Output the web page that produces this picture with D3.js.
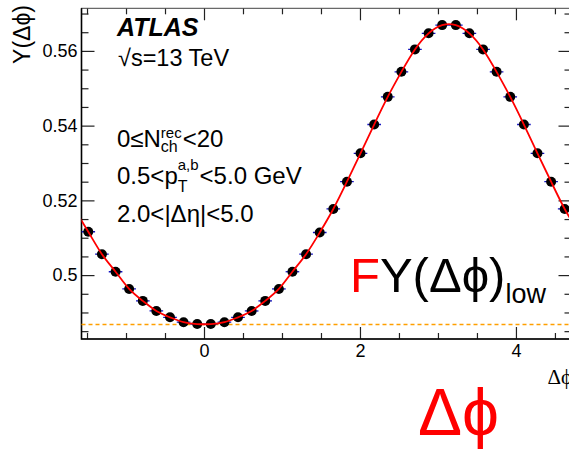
<!DOCTYPE html>
<html>
<head>
<meta charset="utf-8">
<script src="https://cdn.jsdelivr.net/npm/d3@7/dist/d3.min.js"></script>
<style>
  body { margin: 0; background: #fff; }
  svg { display: block; }
  text { font-family: "Liberation Sans", Arial, Helvetica, sans-serif; }
</style>
</head>
<body>
<div id="chart"></div>
<script>
// bin centres in delta phi (36 bins over [-pi/2, 3pi/2])
var dphi = [-1.484, -1.309, -1.134, -0.960, -0.785, -0.611, -0.436, -0.262, -0.087,
             0.087,  0.262,  0.436,  0.611,  0.785,  0.960,  1.134,  1.309,  1.484,
             1.658,  1.833,  2.007,  2.182,  2.356,  2.531,  2.705,  2.880,  3.054,
             3.229,  3.403,  3.578,  3.752,  3.927,  4.102,  4.276,  4.451,  4.625];
// Y(dphi) values
var yVals = [0.5116, 0.5056, 0.5009, 0.4963, 0.4931, 0.4904, 0.4887, 0.4874, 0.4869,
             0.4869, 0.4874, 0.4887, 0.4904, 0.4931, 0.4963, 0.5009, 0.5056, 0.5114,
             0.5177, 0.5250, 0.5326, 0.5403, 0.5477, 0.5544, 0.5604, 0.5647, 0.5669,
             0.5669, 0.5647, 0.5604, 0.5544, 0.5477, 0.5403, 0.5326, 0.5250, 0.5177];
var binHalfWidth = 0.0873;
var lowLevel = [0.4868];          // dashed orange line

var xMajorTicks = [0, 2, 4];
var xMinorTicks = [-1.5, -1, -0.5, 0.5, 1, 1.5, 2.5, 3, 3.5, 4.5];
var yMajorTicks = [0.5, 0.52, 0.54, 0.56];
var yMinorTicks = [0.485, 0.49, 0.495, 0.505, 0.51, 0.515, 0.525, 0.53, 0.535,
                   0.545, 0.55, 0.555, 0.565, 0.57];

var width = 569, height = 450;
var padL = 81.5, padR = 571.5, padT = 8.3, padB = 339;

var svg = d3.select("#chart").append("svg")
    .attr("width", width)
    .attr("height", height);

var x = d3.scaleLinear().domain([-Math.PI / 2, 3 * Math.PI / 2]).range([padL, padR]);
var y = d3.scaleLinear().domain([0.4829, 0.5714]).range([padB, padT]);

svg.append("clipPath").attr("id", "frame")
    .append("rect")
    .attr("x", padL).attr("y", padT)
    .attr("width", padR - padL).attr("height", padB - padT);

// axes: ticks drawn inside the frame, ROOT style
function styleAxis(g) {
    g.select(".domain").remove();
    g.selectAll(".tick line").attr("stroke", "#222").attr("stroke-width", 1.2);
    g.selectAll(".tick text").attr("fill", "#000").style("font-size", "18px");
}

svg.append("g").attr("transform", "translate(0," + padB + ")")
    .call(d3.axisBottom(x).tickValues(xMajorTicks).tickSize(-12).tickPadding(5)
        .tickFormat(d3.format("d")))
    .call(styleAxis);
svg.append("g").attr("transform", "translate(0," + padB + ")")
    .call(d3.axisBottom(x).tickValues(xMinorTicks).tickSize(-6).tickFormat(""))
    .call(styleAxis);
svg.append("g").attr("transform", "translate(0," + padT + ")")
    .call(d3.axisTop(x).tickValues(xMajorTicks).tickSize(-12).tickFormat(""))
    .call(styleAxis);
svg.append("g").attr("transform", "translate(0," + padT + ")")
    .call(d3.axisTop(x).tickValues(xMinorTicks).tickSize(-6).tickFormat(""))
    .call(styleAxis);

svg.append("g").attr("transform", "translate(" + padL + ",0)")
    .call(d3.axisLeft(y).tickValues(yMajorTicks).tickSize(-13).tickPadding(4)
        .tickFormat(function(d) { return d === 0.5 ? "0.5" : d3.format(".2f")(d); }))
    .call(styleAxis);
svg.append("g").attr("transform", "translate(" + padL + ",0)")
    .call(d3.axisLeft(y).tickValues(yMinorTicks).tickSize(-7).tickFormat(""))
    .call(styleAxis);
svg.append("g").attr("transform", "translate(" + padR + ",0)")
    .call(d3.axisRight(y).tickValues(yMajorTicks).tickSize(-13).tickFormat(""))
    .call(styleAxis);
svg.append("g").attr("transform", "translate(" + padR + ",0)")
    .call(d3.axisRight(y).tickValues(yMinorTicks).tickSize(-7).tickFormat(""))
    .call(styleAxis);

// frame
svg.append("rect")
    .attr("x", padL).attr("y", padT)
    .attr("width", padR - padL).attr("height", padB - padT)
    .attr("fill", "none").attr("stroke", "#444").attr("stroke-width", 1);
svg.append("path")
    .attr("d", "M" + padL + "," + padT + "V" + padB + "H" + padR)
    .attr("fill", "none").attr("stroke", "#000").attr("stroke-width", 1.6);

// dashed orange level
svg.selectAll(".low").data(lowLevel).enter().append("line")
    .attr("x1", padL).attr("x2", padR)
    .attr("y1", function(d) { return y(d); })
    .attr("y2", function(d) { return y(d); })
    .attr("stroke", "#ff9f00").attr("stroke-width", 1.5)
    .attr("stroke-dasharray", "4,3");

var points = dphi.map(function(d, i) { return { x: d, y: yVals[i] }; });

// fit curve: smooth line through the points, continued periodically past the edges
var period = 2 * Math.PI;
var ext = points.slice(-3).map(function(p) { return { x: p.x - period, y: p.y }; })
    .concat(points)
    .concat(points.slice(0, 3).map(function(p) { return { x: p.x + period, y: p.y }; }));
var line = d3.line()
    .x(function(d) { return x(d.x); })
    .y(function(d) { return y(d.y); })
    .curve(d3.curveNatural);

// x error bars
svg.append("g").selectAll("line").data(points).enter().append("line")
    .attr("x1", function(d) { return x(d.x - binHalfWidth); })
    .attr("x2", function(d) { return x(d.x + binHalfWidth); })
    .attr("y1", function(d) { return y(d.y); })
    .attr("y2", function(d) { return y(d.y); })
    .attr("stroke", "#1010c0").attr("stroke-width", 1.3)
    .attr("clip-path", "url(#frame)");

svg.append("g").selectAll("circle").data(points).enter().append("circle")
    .attr("cx", function(d) { return x(d.x); })
    .attr("cy", function(d) { return y(d.y); })
    .attr("r", 5)
    .attr("fill", "#000")
    .attr("clip-path", "url(#frame)");

svg.append("path")
    .datum(ext)
    .attr("d", line)
    .attr("fill", "none")
    .attr("stroke", "#ff0000")
    .attr("stroke-width", 1.8)
    .attr("clip-path", "url(#frame)");

// axis titles
svg.append("text")
    .attr("transform", "translate(30,5) rotate(-90)")
    .attr("text-anchor", "end")
    .style("font-size", "23px")
    .text("Y(Δϕ)");
svg.append("text")
    .attr("x", 572).attr("y", 384)
    .attr("text-anchor", "end")
    .style("font-family", "'Liberation Serif','DejaVu Serif',serif")
    .style("font-size", "21px")
    .text("Δϕ");

// labels
svg.append("text")
    .attr("x", 117).attr("y", 36)
    .style("font-size", "25px").style("font-weight", "bold").style("font-style", "italic")
    .text("ATLAS");
svg.append("text")
    .attr("x", 118).attr("y", 66)
    .style("font-size", "23.5px")
    .text("√s=13 TeV");

// helper: write pieces one after another, measuring each
function pieces(px, py, list) {
    var cx = px;
    list.forEach(function(p) {
        var w = 0;
        (p.stack || [p]).forEach(function(s) {
            var t = svg.append("text")
                .attr("x", cx).attr("y", py + (s.dy || 0))
                .style("font-size", s.size + "px")
                .attr("fill", s.color || "#000")
                .text(s.t);
            w = Math.max(w, t.node().getComputedTextLength());
        });
        cx += w + (p.gap || 0);
    });
}

pieces(117, 147, [
    { t: "0≤N", size: 24 },
    { stack: [{ t: "rec", size: 15, dy: -9 }, { t: "ch", size: 16, dy: 5 }], gap: 1 },
    { t: "<20", size: 24 }
]);
pieces(117, 184, [
    { t: "0.5<p", size: 24 },
    { stack: [{ t: "a,b", size: 15, dy: -14 }, { t: "T", size: 16, dy: 8 }], gap: 1 },
    { t: "<5.0 GeV", size: 24 }
]);
pieces(117, 222, [
    { t: "2.0<|Δη|<5.0", size: 24 }
]);

pieces(350, 292, [
    { t: "F", size: 49, color: "#ff0000" },
    { t: "Y(Δϕ)", size: 49 },
    { t: "low", size: 27, dy: 11 }
]);

svg.append("text")
    .attr("x", 418).attr("y", 435)
    .attr("fill", "#ff0000")
    .style("font-size", "66px")
    .text("Δϕ");
</script>
</body>
</html>
